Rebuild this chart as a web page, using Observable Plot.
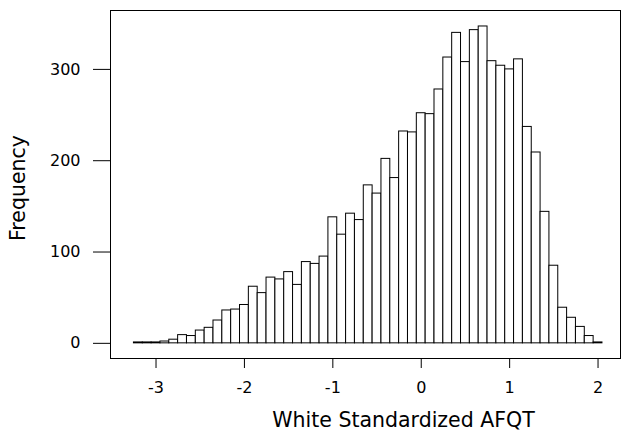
<!DOCTYPE html>
<html><head><meta charset="utf-8">
<script src="https://cdn.jsdelivr.net/npm/d3@7"></script>
<script src="https://cdn.jsdelivr.net/npm/@observablehq/plot@0.6"></script>
<style>
body{margin:0;background:#fff;}
svg text{font-family:"DejaVu Sans",sans-serif;}
</style>
</head><body><div id="chart"></div>
<script>
// Histogram bin centres (bin width 0.1) and counts
const binCenters = [-3.2,-3.1,-3.0,-2.9,-2.8,-2.7,-2.6,-2.5,-2.4,-2.3,-2.2,-2.1,-2.0,-1.9,-1.8,-1.7,-1.6,-1.5,-1.4,-1.3,-1.2,-1.1,-1.0,-0.9,-0.8,-0.7,-0.6,-0.5,-0.4,-0.3,-0.2,-0.1,0.0,0.1,0.2,0.3,0.4,0.5,0.6,0.7,0.8,0.9,1.0,1.1,1.2,1.3,1.4,1.5,1.6,1.7,1.8,1.9,2.0];
const counts = [1,1,1,2,4,9,8,14,17,25,36,37,42,62,55,72,70,78,64,89,87,95,138,119,142,135,173,164,202,181,232,231,252,251,278,313,340,308,343,347,309,304,300,311,237,209,144,85,39,28,18,8,1];
const binWidth = 0.1;
const xTicks = [-3,-2,-1,0,1,2];
const yTicks = [0,100,200,300];
const xTitle = "White Standardized AFQT";
const yTitle = "Frequency";

const bins = binCenters.map((c,i)=>({x1: c - binWidth/2, x2: c + binWidth/2, count: counts[i]}));

const plot = Plot.plot({
  width: 621, height: 432,
  marginLeft: 110, marginRight: 1, marginTop: 10, marginBottom: 74,
  x: {domain: [-3.515, 2.254]},
  y: {domain: [-16.6, 364.5]},
  style: {background: "white", color: "black", fontSize: "16px", fontFamily: "DejaVu Sans, sans-serif"},
  marks: [
    Plot.rectY(bins, {x1: "x1", x2: "x2", y1: 0, y2: "count", fill: "white", stroke: "black", strokeWidth: 1}),
    Plot.frame({stroke: "black", strokeWidth: 1}),
    Plot.axisX({ticks: xTicks, tickSize: 10, tickPadding: 13, label: null, fontSize: 16, tickFormat: d => d < 0 ? "-" + Math.abs(d) : String(d)}),
    Plot.axisY({ticks: yTicks, tickSize: 17, tickPadding: 13, label: null, fontSize: 16}),
    Plot.text([xTitle], {frameAnchor: "bottom", dx: 38, dy: 62, lineAnchor: "middle", textAnchor: "middle", fontSize: 20.5, text: d => d}),
    Plot.text([yTitle], {frameAnchor: "left", dx: -92, dy: 3.5, rotate: -90, lineAnchor: "middle", textAnchor: "middle", fontSize: 20.5, text: d => d})
  ]
});
document.getElementById("chart").appendChild(plot);
</script>
</body></html>
